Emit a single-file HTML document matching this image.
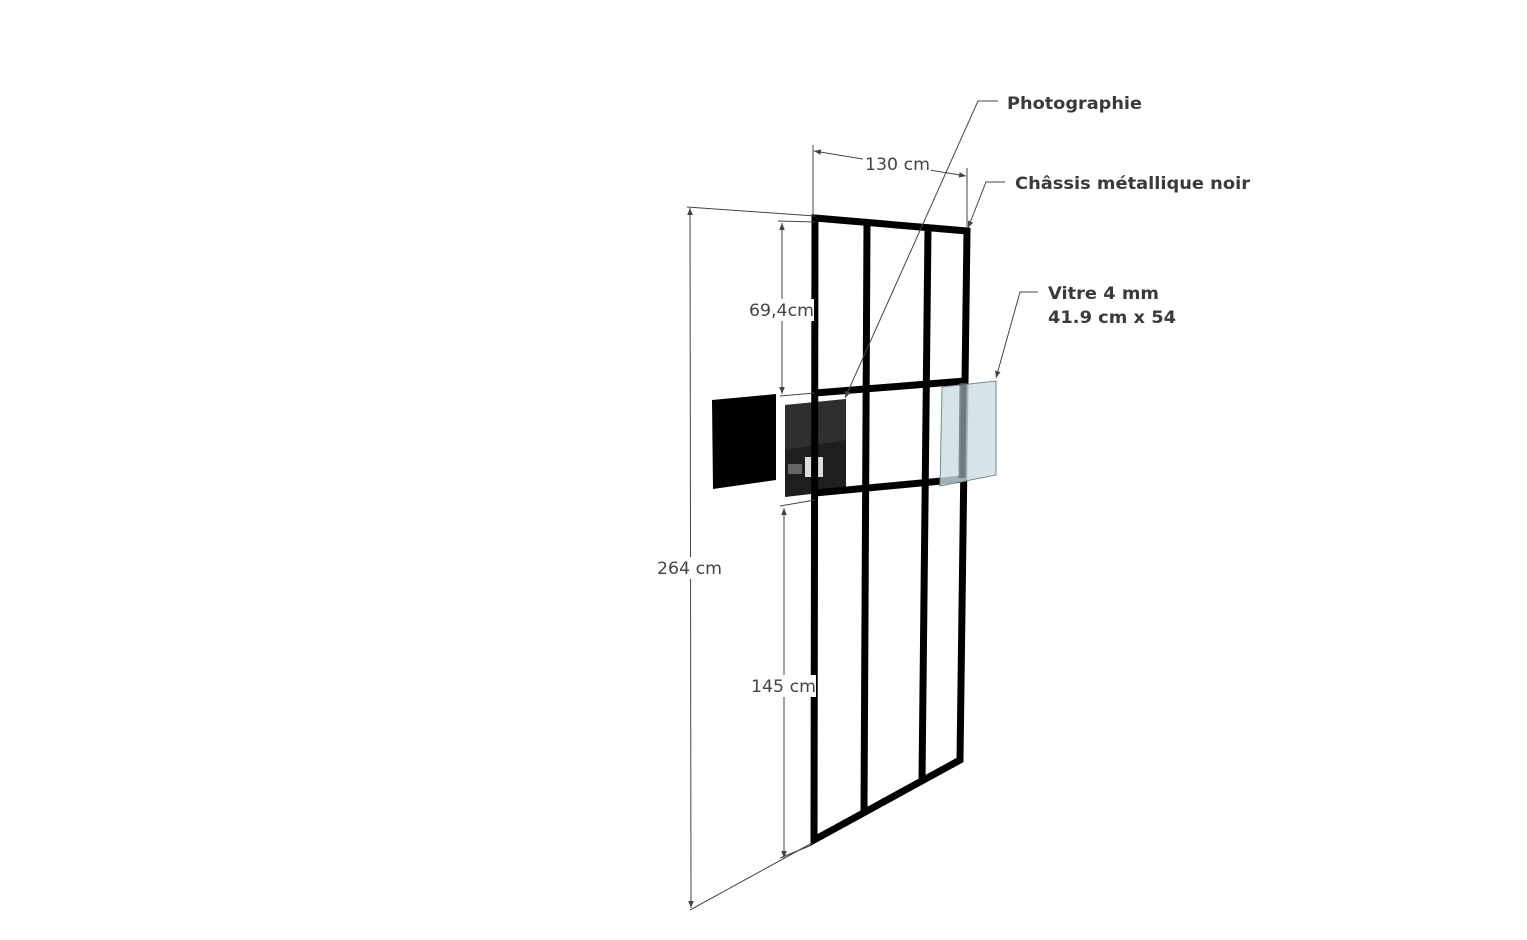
<!DOCTYPE html>
<html><head><meta charset="utf-8"><style>html,body{margin:0;padding:0;background:#fff}svg{display:block}</style></head>
<body>
<svg width="1527" height="940" viewBox="0 0 1527 940" xmlns="http://www.w3.org/2000/svg">
<defs>
<marker id="ar" viewBox="0 0 10 10" refX="10" refY="5" markerWidth="7" markerHeight="7" orient="auto-start-reverse"><path d="M0,1 L10,5 L0,9 z" fill="#444"/></marker>
</defs>
<polygon points="712,400 776,394 776,480 713,489" fill="#000"/>
<polygon points="785,405 846,399 846,490 785,497" fill="#1e1e1e"/>
<polygon points="785,405 846,399 846,440 785,450" fill="#3a3a3a" opacity="0.6"/>
<rect x="805" y="457" width="18" height="20" fill="#ddd"/>
<rect x="788" y="464" width="14" height="10" fill="#666"/>
<g stroke="#000" stroke-width="7" fill="none" stroke-linejoin="miter">
<polygon points="815,218 967,231 960,760 814,840"/>
<line x1="867" y1="224" x2="864" y2="811"/>
<line x1="928" y1="229" x2="922" y2="780"/>
<line x1="815" y1="393" x2="965" y2="381"/>
<line x1="815" y1="493" x2="963" y2="479"/>
</g>
<polygon points="942,387 996,381 996,475 940,486" fill="#c9dde2" fill-opacity="0.8" stroke="#7a8a8e" stroke-width="1"/>
<line x1="963" y1="383" x2="962" y2="478" stroke="#566" stroke-width="7" opacity="0.7"/>
<g stroke="#444" stroke-width="1" fill="none">
<line x1="687" y1="207" x2="815" y2="216"/>
<line x1="690" y1="910" x2="812" y2="843"/>
<line x1="690" y1="208" x2="691" y2="908" marker-start="url(#ar)" marker-end="url(#ar)"/>
<line x1="778" y1="221" x2="815" y2="222"/>
<line x1="780" y1="396" x2="815" y2="393"/>
<line x1="782" y1="223" x2="782" y2="394" marker-start="url(#ar)" marker-end="url(#ar)"/>
<line x1="780" y1="506" x2="815" y2="500"/>
<line x1="780" y1="858" x2="812" y2="845"/>
<line x1="784" y1="508" x2="784" y2="858" marker-start="url(#ar)" marker-end="url(#ar)"/>
<line x1="813" y1="145" x2="813" y2="215"/>
<line x1="967" y1="168" x2="967" y2="228"/>
<line x1="814" y1="151" x2="966" y2="176" marker-start="url(#ar)" marker-end="url(#ar)"/>
<polyline points="998,101 978,101 845,398" marker-end="url(#ar)"/>
<polyline points="1005,182 986,182 968,228" marker-end="url(#ar)"/>
<polyline points="1038,292 1020,292 996,378" marker-end="url(#ar)"/>
</g>
<g font-family="'DejaVu Sans','Liberation Sans',sans-serif" font-size="17" fill="#444">
<rect x="654" y="557" width="72" height="22" fill="#fff"/>
<text x="657" y="574" textLength="65" lengthAdjust="spacingAndGlyphs">264 cm</text>
<rect x="747" y="299" width="67" height="22" fill="#fff"/>
<text x="749" y="316" textLength="65" lengthAdjust="spacingAndGlyphs">69,4cm</text>
<rect x="749" y="675" width="67" height="22" fill="#fff"/>
<text x="751" y="692" textLength="65" lengthAdjust="spacingAndGlyphs">145 cm</text>
<rect x="863" y="154" width="68" height="20" fill="#fff"/>
<text x="865" y="170" textLength="65" lengthAdjust="spacingAndGlyphs">130 cm</text>
</g>
<g font-family="'DejaVu Sans','Liberation Sans',sans-serif" font-size="17" font-weight="bold" fill="#3a3a3a">
<text x="1007" y="109" textLength="135" lengthAdjust="spacingAndGlyphs">Photographie</text>
<text x="1015" y="189" textLength="235" lengthAdjust="spacingAndGlyphs">Châssis métallique noir</text>
<text x="1048" y="299" textLength="111" lengthAdjust="spacingAndGlyphs">Vitre 4 mm</text>
<text x="1048" y="323" textLength="128" lengthAdjust="spacingAndGlyphs">41.9 cm x 54</text>
</g>
</svg>
</body></html>
